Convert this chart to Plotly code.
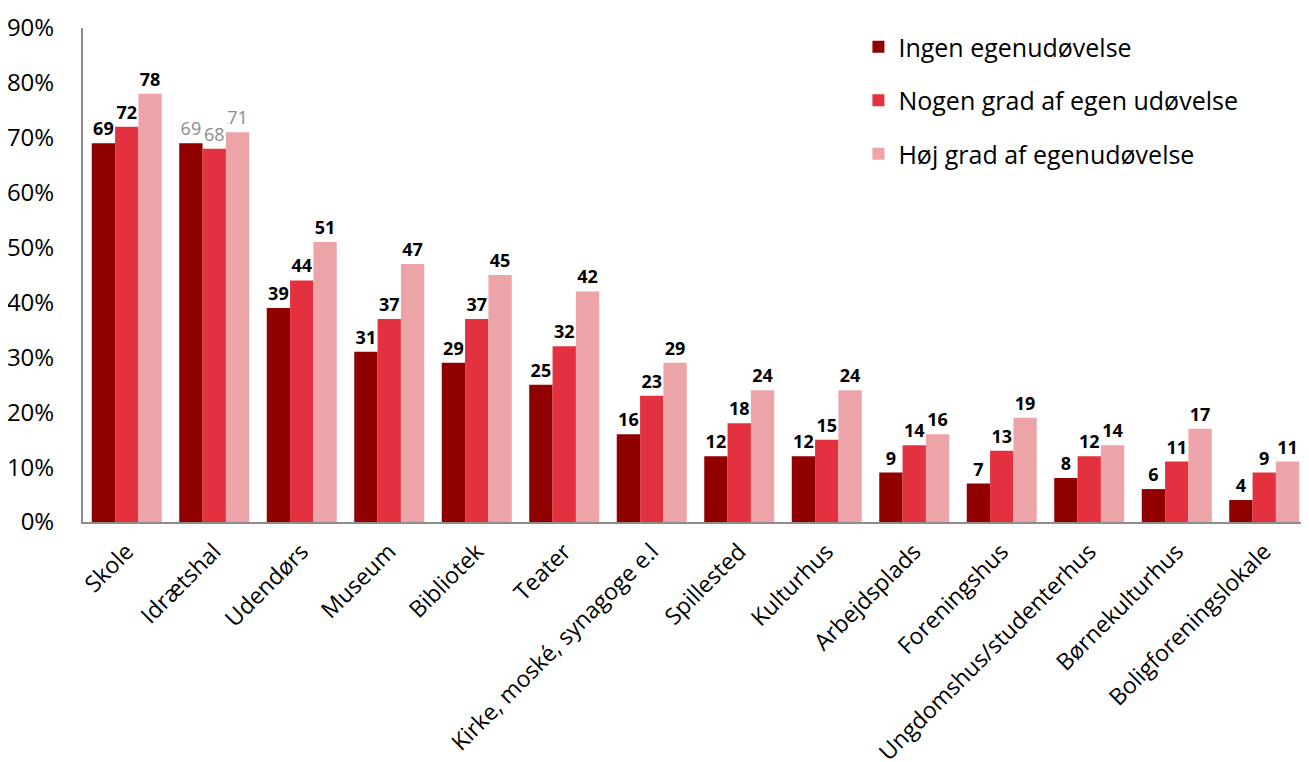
import plotly.graph_objects as go

categories = ["Skole", "Idrætshal", "Udendørs", "Museum", "Bibliotek", "Teater",
              "Kirke, moské, synagoge e.l", "Spillested", "Kulturhus", "Arbejdsplads",
              "Foreningshus", "Ungdomshus/studenterhus", "Børnekulturhus", "Boligforeningslokale"]
series_names = ["Ingen egenudøvelse", "Nogen grad af egen udøvelse", "Høj grad af egenudøvelse"]
ingen = [69, 69, 39, 31, 29, 25, 16, 12, 12, 9, 7, 8, 6, 4]
nogen = [72, 68, 44, 37, 37, 32, 23, 18, 15, 14, 13, 12, 11, 9]
hoej = [78, 71, 51, 47, 45, 42, 29, 24, 24, 16, 19, 14, 17, 11]
colors = ["#900000", "#E3313F", "#EDA4A8"]
gray_label_category = "Idrætshal"

FONT = "Open Sans"
fig = go.Figure()
for name, vals, col in zip(series_names, [ingen, nogen, hoej], colors):
    texts = []
    tcols = []
    for c, v in zip(categories, vals):
        if c == gray_label_category:
            texts.append(str(v))
            tcols.append("#8c8c8c")
        else:
            texts.append("<b>%d</b>" % v)
            tcols.append("#000000")
    fig.add_trace(go.Bar(
        x=categories, y=[v / 100 for v in vals], name=name,
        marker=dict(color=col, line=dict(width=0)),
        text=texts, textposition="outside", cliponaxis=False,
        textfont=dict(color=tcols, size=18, family=FONT),
        legendgroup=name,
    ))

fig.update_layout(
    width=1309, height=762,
    margin=dict(l=75, r=9, t=20, b=248, autoexpand=False),
    paper_bgcolor="white", plot_bgcolor="white",
    barmode="group", bargap=0.2, bargroupgap=0,
    font=dict(family=FONT, size=24, color="#000000"),
    legend=dict(x=0.633, y=1.008, xanchor="left", yanchor="top",
                font=dict(size=25, family=FONT), tracegroupgap=18,
                itemwidth=30, bgcolor="rgba(0,0,0,0)"),
    xaxis=dict(showline=True, linecolor="#8c8c8c", linewidth=2, tickangle=-45,
               ticks="", showgrid=False, automargin=False, ticklabelstandoff=5,
               tickfont=dict(size=23, family=FONT)),
    yaxis=dict(range=[0, 0.9], dtick=0.1, tickformat=".0%", showline=True,
               linecolor="#8c8c8c", linewidth=2, showgrid=False, ticks="",
               ticklabelstandoff=22, zeroline=False, automargin=False,
               tickfont=dict(size=24, family=FONT)),
)
fig.write_html("out.html")
